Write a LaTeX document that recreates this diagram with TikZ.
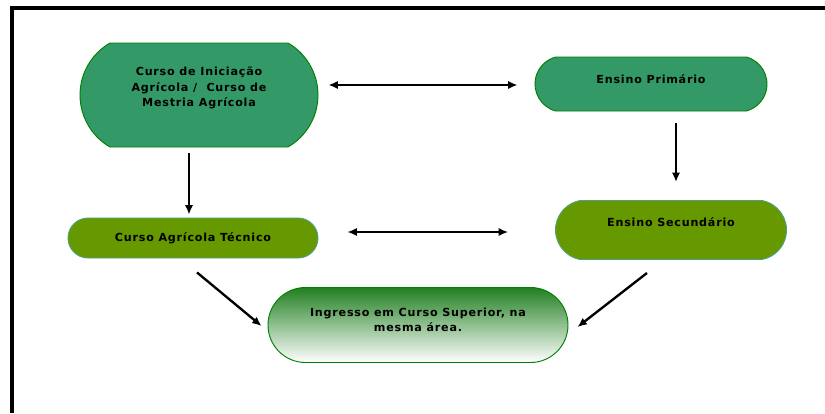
\documentclass[tikz,border=0pt]{standalone}
\usepackage{fontspec}
\newfontfamily\boxfont{DejaVu Sans}[LetterSpace=7]
\usetikzlibrary{arrows.meta, positioning, shapes.misc, calc}
\definecolor{seagreen}{RGB}{51,153,102}
\definecolor{seaedge}{RGB}{0,128,0}
\definecolor{olivefill}{RGB}{102,153,0}
\definecolor{oliveedge}{RGB}{80,160,130}
\definecolor{topgreen}{RGB}{34,128,34}

\begin{document}
\begin{tikzpicture}[x=0.03cm, y=-0.03cm,
    capsule/.style={rounded rectangle, inner sep=0pt, line width=0.8pt},
    seabox/.style={capsule, draw=seaedge, fill=seagreen},
    olivebox/.style={capsule, draw=oliveedge, fill=olivefill},
    fadebox/.style={capsule, draw=seaedge, top color=topgreen, middle color=topgreen!35!white, bottom color=white},
    txt/.style={font=\boxfont\bfseries\fontsize{9.5}{13}\selectfont, align=center, inner sep=0pt},
    arr/.style={-{Latex[length=8pt, width=7pt]}, line width=2pt},
    darr/.style={{Latex[length=8pt, width=7pt]}-{Latex[length=8pt, width=7pt]}, line width=2pt}
]
\useasboundingbox (0,0) rectangle (825,413);
% frame
\draw[line width=2.6pt] (12,413) -- (12,8) -- (825,8);

% boxes
\node[seabox, minimum width=7.14cm, minimum height=3.12cm, rounded rectangle arc length=120] (inic) at (199,95) {};
\node[txt] (inictxt) at (199,88) {Curso de Iniciação\\Agrícola /\ \ Curso de\\Mestria Agrícola};
\node[seabox, minimum width=6.96cm, minimum height=1.62cm, rounded rectangle arc length=150] (prim) at (651,84) {};
\node[txt] (primtxt) at (651,79) {Ensino Primário};
\node[olivebox, minimum width=7.5cm, minimum height=1.2cm] (tecn) at (193,238) {};
\node[txt] (tecntxt) at (193,238) {Curso Agrícola Técnico};
\node[olivebox, minimum width=6.93cm, minimum height=1.77cm, rounded rectangle arc length=160] (secu) at (671,230) {};
\node[txt] (secutxt) at (671,222) {Ensino Secundário};
\node[fadebox, minimum width=9cm, minimum height=2.25cm] (ingr) at (418,325) {};
\node[txt] (ingrtxt) at (418,320) {Ingresso em Curso Superior, na\\mesma área.};

% arrows
\draw[darr] ($(inic.east)+(10,-10)$) -- ($(prim.west)+(-17,1)$);
\draw[arr] ($(inic.south)+(-10,6)$) -- ($(tecn.north)+(-4,-3)$);
\draw[arr] ($(prim.south)+(25,12)$) -- ($(secu.north)+(5,-18)$);
\draw[darr, line width=1.3pt] ($(tecn.east)+(29,-6)$) -- ($(secu.west)+(-47,2)$);
\draw[arr] ($(tecn.south)+(4,14)$) -- ($(ingr.west)+(-6,1)$);
\draw[arr] ($(secu.south)+(-24,13)$) -- ($(ingr.east)+(9,2)$);
\end{tikzpicture}
\end{document}
